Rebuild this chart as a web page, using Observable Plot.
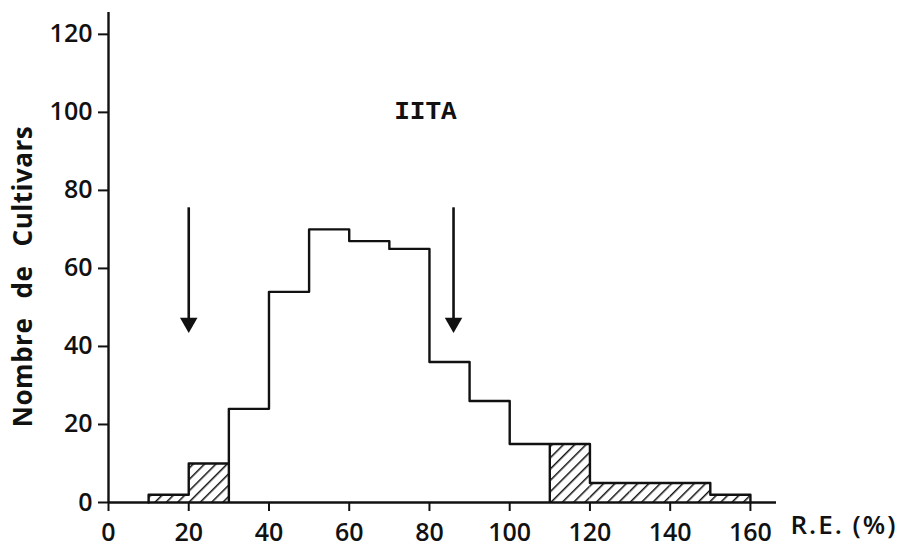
<!DOCTYPE html>
<html>
<head>
<meta charset="utf-8">
<script src="https://cdn.jsdelivr.net/npm/d3@7"></script>
<script src="https://cdn.jsdelivr.net/npm/@observablehq/plot@0.6"></script>
<style>
  html, body { margin: 0; padding: 0; background: #fff; }
  #chart svg g[aria-label$="tick"] { stroke-width: 2px; }
</style>
</head>
<body>
<div id="chart"></div>
<script>
// ---- data ----
const binStarts = [10, 20, 30, 40, 50, 60, 70, 80, 90, 100, 110, 120, 130, 140, 150];
const binCounts = [2, 10, 24, 54, 70, 67, 65, 36, 26, 15, 15, 5, 5, 5, 2];
const binHatched = [true, true, false, false, false, false, false, false, false, false, true, true, true, true, true];
const binWidth = 10;
const xTicks = [0, 20, 40, 60, 80, 100, 120, 140, 160];
const yTicks = [0, 20, 40, 60, 80, 100, 120];
const arrowX = [20, 86];
const arrowFrom = 74;
const arrowTo = 43.5;
const arrowLabel = "IITA";
const yLabel = "Nombre de Cultivars";
const xLabel = "R.E. (%)";

// ---- derived tables ----
const bins = binStarts.map((s, i) => ({x1: s, x2: s + binWidth, count: binCounts[i], hatched: binHatched[i]}));
const hatchedBins = bins.filter(b => b.hatched);
const outline = [{x: bins[0].x1, y: 0}]
  .concat(bins.map(b => ({x: b.x1, y: b.count})))
  .concat([{x: bins[bins.length - 1].x2, y: 0}]);
// vertical edges where a hatched block meets an unhatched one
const edges = [];
for (let i = 1; i < bins.length; i++) {
  if (bins[i].hatched !== bins[i - 1].hatched) {
    edges.push({x: bins[i].x1, y: Math.min(bins[i].count, bins[i - 1].count)});
  }
}

const ink = "#111";
const plot = Plot.plot({
  width: 899,
  height: 552,
  marginLeft: 108,
  marginRight: 123,
  marginTop: 12,
  marginBottom: 50,
  style: {fontFamily: "'Open Sans', sans-serif", fontSize: "25px", fontWeight: 600, color: ink, background: "#fff"},
  x: {domain: [0, 166.5], ticks: xTicks, tickSize: 9, tickPadding: 12, label: null, tickFormat: d => String(d)},
  y: {domain: [0, 125.6], ticks: yTicks, tickSize: 10, tickPadding: 6, label: null, tickFormat: d => String(d)},
  marks: [
    Plot.rectY(hatchedBins, {x1: "x1", x2: "x2", y1: 0, y2: "count", fill: "url(#hatch)"}),
    Plot.line(outline, {x: "x", y: "y", curve: "step-after", stroke: ink, strokeWidth: 2.4}),
    Plot.ruleX(edges, {x: "x", y1: 0, y2: "y", stroke: ink, strokeWidth: 2.4}),
    Plot.ruleX([0], {stroke: ink, strokeWidth: 2.4}),
    Plot.ruleY([0], {stroke: ink, strokeWidth: 2.4}),
    Plot.ruleX(arrowX, {x: d => d, y1: arrowFrom, y2: arrowTo, stroke: ink, strokeWidth: 2.6, dy: -6}),
    Plot.dot(arrowX, {x: d => d, y: arrowTo, symbol: "triangle", rotate: 180, r: 6.5, fill: ink, stroke: "none", dy: -10}),
    Plot.text([arrowLabel], {x: 79, y: 100.5, text: d => d, fontFamily: "'Liberation Mono', monospace", fontSize: 26, fontWeight: "bold", fill: ink}),
    Plot.text([yLabel], {frameAnchor: "left", dx: -85, dy: 19, rotate: -90, text: d => d, fontSize: 26, fontWeight: "bold", fill: ink, textAnchor: "middle"}),
    Plot.text([xLabel], {frameAnchor: "bottom-right", dx: 14, dy: 31, text: d => d, textAnchor: "start", fill: ink, fontSize: 26})
  ]
});

// hatch pattern definition
const ns = "http://www.w3.org/2000/svg";
const defs = document.createElementNS(ns, "defs");
defs.innerHTML = '<pattern id="hatch" patternUnits="userSpaceOnUse" width="8" height="8" patternTransform="rotate(45)">' +
  '<rect width="8" height="8" fill="#fff"/><line x1="0" y1="0" x2="0" y2="8" stroke="' + ink + '" stroke-width="3"/></pattern>';
plot.insertBefore(defs, plot.firstChild);
// spacing for the axis titles
plot.querySelectorAll("text").forEach(t => {
  if (t.textContent === yLabel) { t.setAttribute("word-spacing", "12"); t.setAttribute("letter-spacing", "0.5"); }
  if (t.textContent === xLabel) { t.setAttribute("letter-spacing", "2"); }
});

document.getElementById("chart").appendChild(plot);
</script>
</body>
</html>
